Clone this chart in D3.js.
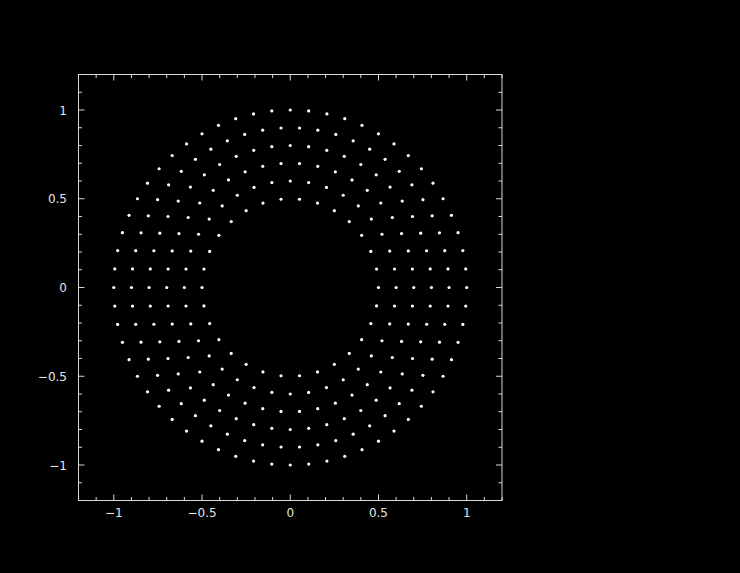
<!DOCTYPE html>
<html><head><meta charset="utf-8">
<script src="https://cdn.jsdelivr.net/npm/d3@7"></script>
<style>html,body{margin:0;padding:0;background:#000;}svg{display:block;}text{-webkit-font-smoothing:antialiased;}</style>
</head><body>
<svg id="chart" width="740" height="573"></svg>
<script>
// Polar mesh nodes: each ring radius and the number of equally spaced nodes on it (first node at angle 0)
const ringRadii = [0.5, 0.6, 0.7, 0.8, 0.9, 1.0];
const ringCounts = [30, 36, 42, 48, 54, 60];
const xTicks = [-1, -0.5, 0, 0.5, 1];
const yTicks = [-1, -0.5, 0, 0.5, 1];
const tickLabels = {"-1": "\u22121", "-0.5": "\u22120.5", "0": "0", "0.5": "0.5", "1": "1"};

const points = [];
ringRadii.forEach((r, i) => {
  const n = ringCounts[i];
  for (let k = 0; k < n; k++) {
    const a = 2 * Math.PI * k / n;
    points.push({x: r * Math.cos(a), y: r * Math.sin(a)});
  }
});

const svg = d3.select("#chart");
svg.append("rect").attr("width", 740).attr("height", 573).attr("fill", "#000");

const x = d3.scaleLinear().domain([-1.2, 1.2]).range([78.5, 502]);
const y = d3.scaleLinear().domain([-1.2, 1.2]).range([500.5, 74.5]);

const axisColor = "#d8d8d8";
const minor = d3.range(-12, 13).map(d => d / 10);

const g = svg.append("g");
// frame
g.append("rect").attr("x", x(-1.2)).attr("y", y(1.2))
  .attr("width", x(1.2) - x(-1.2)).attr("height", y(-1.2) - y(1.2))
  .attr("fill", "none").attr("stroke", axisColor).attr("stroke-width", 1);

function isMajor(v){ return Math.abs(v * 2 - Math.round(v * 2)) < 1e-9; }

// ticks on all four sides pointing inward
minor.forEach(v => {
  const len = isMajor(v) ? 6 : 3.5;
  g.append("line").attr("x1", x(v)).attr("x2", x(v)).attr("y1", y(-1.2)).attr("y2", y(-1.2) - len)
    .attr("stroke", axisColor);
  g.append("line").attr("x1", x(v)).attr("x2", x(v)).attr("y1", y(1.2)).attr("y2", y(1.2) + len)
    .attr("stroke", axisColor);
  g.append("line").attr("y1", y(v)).attr("y2", y(v)).attr("x1", x(-1.2)).attr("x2", x(-1.2) + len)
    .attr("stroke", axisColor);
  g.append("line").attr("y1", y(v)).attr("y2", y(v)).attr("x1", x(1.2)).attr("x2", x(1.2) - len)
    .attr("stroke", axisColor);
});

const font = "DejaVu Sans, sans-serif";
const labelColor = "#e6e6e6";
g.selectAll("text.xl").data(xTicks).enter().append("text")
  .attr("class", "xl").attr("x", d => x(d)).attr("y", 517)
  .attr("text-anchor", "middle").attr("fill", labelColor)
  .attr("font-family", font).attr("font-size", 12)
  .text(d => tickLabels[String(d)]);

g.selectAll("text.yl").data(yTicks).enter().append("text")
  .attr("class", "yl").attr("x", 67).attr("y", d => y(d) + 4.5)
  .attr("text-anchor", "end").attr("fill", labelColor)
  .attr("font-family", font).attr("font-size", 12)
  .text(d => tickLabels[String(d)]);

// points
svg.append("g").selectAll("circle").data(points).enter().append("circle")
  .attr("cx", d => x(d.x)).attr("cy", d => y(d.y)).attr("r", 1.6).attr("fill", "#fff");
</script>
</body></html>
